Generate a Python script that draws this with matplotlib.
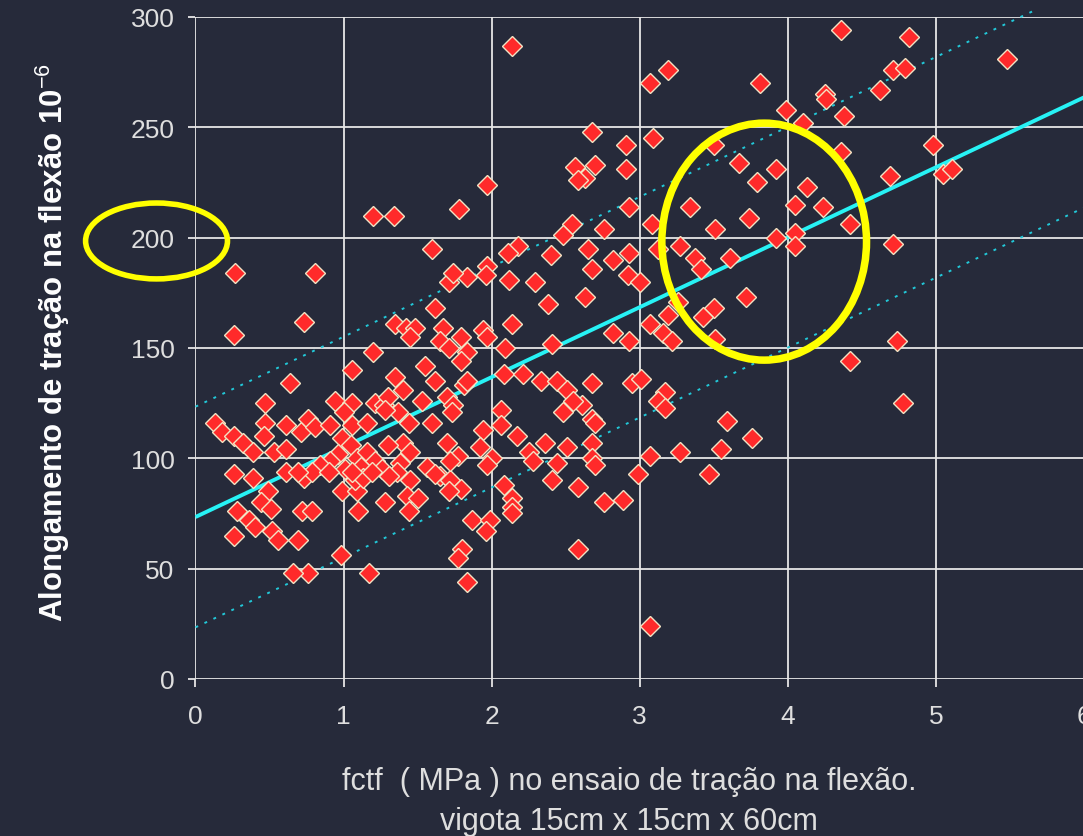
import matplotlib.pyplot as plt
from matplotlib.patches import Ellipse
import numpy as np

# fctf (MPa) x alongamento (10^-6)
fctf = [
    2.14, 4.36, 4.82, 5.48, 3.19, 3.07, 3.81, 4.71, 4.79, 4.62,
    3.99, 4.10, 4.25, 4.26, 4.38, 4.36, 4.98, 5.05, 5.11, 4.69,
    4.42, 4.71, 2.68, 2.91, 3.09, 2.70, 2.63, 2.91, 2.93, 2.76,
    3.08, 2.65, 2.82, 2.93, 2.68, 2.92, 3.00, 3.12, 3.27, 3.37,
    3.41, 3.61, 3.34, 3.51, 3.74, 3.50, 3.67, 3.79, 3.92, 4.13,
    4.05, 4.24, 3.92, 4.05, 4.05, 3.72, 2.63, 3.26, 3.50, 3.43,
    3.19, 3.07, 3.16, 3.22, 2.82, 2.93, 3.51, 4.74, 4.42, 4.78,
    2.68, 2.95, 3.01, 3.17, 3.12, 3.17, 3.59, 3.76, 3.55, 3.27,
    3.07, 2.99, 3.47, 2.76, 2.89, 2.68, 2.70, 2.68, 2.68, 2.70,
    2.61, 2.58, 3.07,
    1.97, 1.78, 1.20, 1.34, 1.60, 0.27, 0.81, 2.56, 2.58, 2.54,
    2.48, 2.18, 2.11, 2.40, 1.97, 1.96, 1.83, 1.71, 1.74, 2.12,
    2.29, 2.38, 0.26, 0.73, 1.62, 1.35, 1.42, 1.48, 1.45, 1.67,
    1.65, 1.79, 1.71, 1.83, 1.79, 1.94, 1.97, 2.14, 2.09, 2.41,
    1.20, 1.06, 0.64, 0.47, 0.13, 0.18, 0.26, 0.32, 0.39, 0.47,
    0.46, 0.53, 0.61, 0.61, 0.71, 0.76, 0.81, 0.91, 0.94, 1.06,
    1.00, 1.06, 1.16, 1.21, 1.27, 1.30, 1.37, 1.44, 1.53, 1.60,
    1.70, 1.74, 1.81, 1.83, 2.06, 2.08, 2.21, 2.33, 2.44, 2.51,
    2.55, 2.48, 1.94, 2.06, 2.17, 2.25, 2.28, 2.36, 2.44, 2.51,
    2.41, 2.58, 1.92, 2.00, 1.97, 2.08, 2.14, 2.14, 2.14, 1.87,
    1.99, 1.96, 1.80, 1.77, 1.83, 1.17, 0.98, 0.76, 0.66, 1.55,
    1.62, 1.40, 1.35, 1.73, 1.40, 1.45, 1.38, 1.36, 1.65, 1.72,
    1.79, 1.71, 1.45, 1.43, 1.50, 1.44, 1.70, 1.77, 1.72, 1.56,
    1.62, 1.28, 0.99, 1.05, 0.96, 1.09, 1.16, 1.21, 1.12, 1.26,
    1.30, 1.01, 0.91, 0.84, 0.26, 0.39, 0.61, 0.73, 0.79, 0.69,
    0.90, 0.49, 0.44, 0.51, 0.28, 0.36, 0.40, 0.52, 0.56, 0.26,
    0.69, 0.72, 0.79, 0.99, 1.09, 1.08, 1.13, 1.19, 1.06, 1.10,
    1.28, 1.31,
]
alongamento = [
    287, 294, 291, 281, 276, 270, 270, 276, 277, 267,
    258, 252, 265, 263, 255, 239, 242, 229, 231, 228,
    206, 197, 248, 242, 245, 233, 227, 231, 214, 204,
    206, 195, 190, 193, 186, 183, 180, 195, 196, 191,
    186, 191, 214, 204, 209, 242, 234, 225, 231, 223,
    215, 214, 200, 202, 196, 173, 173, 171, 168, 164,
    165, 161, 157, 153, 157, 153, 154, 153, 144, 125,
    134, 134, 136, 130, 126, 123, 117, 109, 104, 103,
    101, 93, 93, 80, 81, 118, 116, 107, 100, 97,
    124, 59, 24,
    224, 213, 210, 210, 195, 184, 184, 232, 226, 206,
    201, 196, 193, 192, 187, 183, 182, 180, 184, 181,
    180, 170, 156, 162, 168, 161, 159, 159, 155, 159,
    153, 155, 150, 148, 144, 158, 155, 161, 150, 152,
    148, 140, 134, 125, 116, 112, 110, 107, 103, 116,
    110, 103, 115, 104, 112, 118, 114, 115, 126, 125,
    121, 115, 116, 125, 124, 128, 121, 116, 126, 116,
    128, 124, 133, 135, 122, 138, 138, 135, 135, 131,
    126, 121, 113, 115, 110, 103, 99, 107, 98, 105,
    90, 87, 105, 100, 97, 88, 82, 78, 75, 72,
    72, 67, 59, 55, 44, 48, 56, 48, 48, 142,
    135, 131, 137, 121, 107, 103, 98, 94, 92, 90,
    86, 85, 90, 83, 82, 76, 107, 101, 99, 96,
    93, 122, 109, 106, 102, 100, 103, 99, 96, 95,
    106, 95, 99, 97, 93, 91, 94, 91, 94, 94,
    94, 85, 80, 77, 76, 72, 69, 67, 63, 65,
    63, 76, 76, 85, 85, 90, 91, 94, 94, 76,
    80, 92,
]

# reta de regressao e faixa de +/- 50
intercepto = 73.4
inclinacao = 31.7
faixa = 50
x_fim_superior = 5.68

x_ticks = [0, 1, 2, 3, 4, 5, 6]
y_ticks = [0, 50, 100, 150, 200, 250, 300]

fundo = '#262a3a'
texto = '#dedede'

plt.rcParams['mathtext.fontset'] = 'custom'
plt.rcParams['mathtext.rm'] = 'Liberation Sans'

fig = plt.figure(figsize=(10.83, 8.37), dpi=100, facecolor=fundo)
ax = fig.add_axes([0.1805, 0.1876, 0.8205, 0.7909])
ax.set_facecolor(fundo)

xs = np.array([0, 6])
ax.plot(xs, intercepto + inclinacao * xs, color='#27f2f5', lw=2.8, zorder=2,
        solid_capstyle='butt')
xs_sup = np.array([0, x_fim_superior])
ax.plot(xs_sup, intercepto + inclinacao * xs_sup + faixa, color='#22c8d8',
        lw=1.4, ls=(0, (1.5, 3.6)), zorder=2, clip_on=False)
ax.plot(xs, intercepto + inclinacao * xs - faixa, color='#22c8d8',
        lw=1.4, ls=(0, (1.5, 3.6)), zorder=2)

ax.plot(fctf, alongamento, ls='none', marker='D', markersize=10.4,
        markerfacecolor='#ff2a2a', markeredgecolor='#f3e3c3',
        markeredgewidth=1.0, zorder=3)

# destaques em amarelo
for cx, cy, w, h, lw in [(-0.263, 198.5, 0.958, 34.4, 4.0),
                         (3.840, 198.2, 1.382, 107.4, 5.4)]:
    ax.add_patch(Ellipse((cx, cy), w, h, fill=False, edgecolor='#ffff00',
                         lw=lw, zorder=4, clip_on=False))

ax.set_xlim(0, 6)
ax.set_ylim(0, 300)
ax.set_xticks(x_ticks)
ax.set_yticks(y_ticks)
ax.grid(True, color='#e6e6e6', lw=1.3)
ax.set_axisbelow(True)
for s in ax.spines.values():
    s.set_visible(False)
ax.tick_params(axis='both', colors='#e6e6e6', width=1.3,
               labelcolor=texto, labelsize=19)
ax.tick_params(axis='x', length=6, pad=12)
ax.tick_params(axis='y', length=5, pad=10)
for lab in ax.get_xticklabels() + ax.get_yticklabels():
    lab.set_fontfamily('Liberation Sans')

fig.text(0.049, 0.591, 'Alongamento de tração na flexão 10$^{\\mathrm{-6}}$',
         rotation=90, ha='center', va='center', color='white',
         fontsize=22.4, fontweight='bold', family='Liberation Sans')

fig.text(0.581, 0.0562, 'fctf  ( MPa ) no ensaio de tração na flexão.',
         ha='center', va='baseline', color=texto, fontsize=22,
         family='Liberation Sans')
fig.text(0.581, 0.0084, 'vigota 15cm x 15cm x 60cm',
         ha='center', va='baseline', color=texto, fontsize=22,
         family='Liberation Sans')

fig.savefig('out.png', dpi=100, facecolor=fundo)
